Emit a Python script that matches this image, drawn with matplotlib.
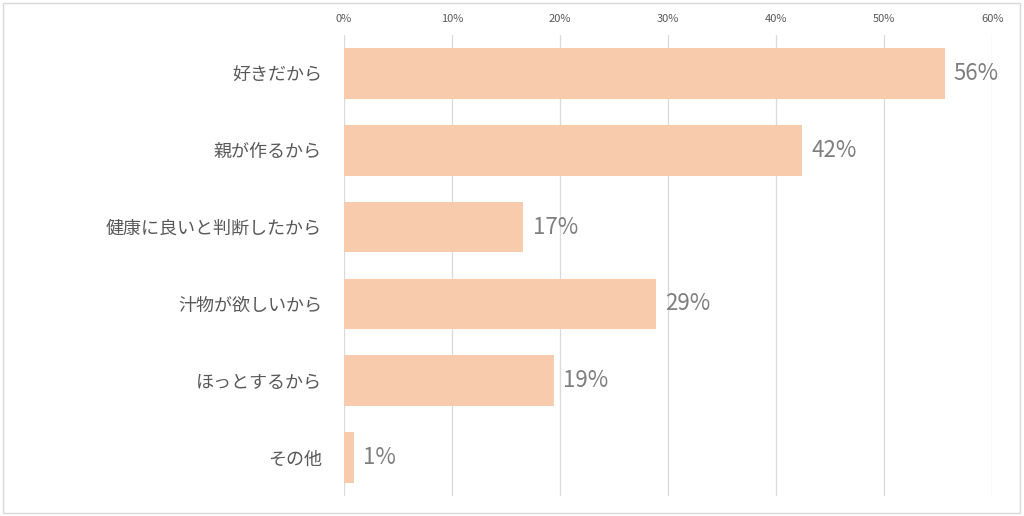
import matplotlib
matplotlib.use("Agg")
import matplotlib.pyplot as plt
from matplotlib.patches import Rectangle
from matplotlib.ticker import PercentFormatter

plt.rcParams["font.family"] = ["Noto Sans CJK JP", "DejaVu Sans"]

# reasons, top to bottom, share of respondents (%)
reasons = ["好きだから", "親が作るから", "健康に良いと判断したから",
           "汁物が欲しいから", "ほっとするから", "その他"]
shares = [55.6, 42.4, 16.6, 28.9, 19.4, 0.9]
xticks = [0, 10, 20, 30, 40, 50, 60]

BAR = "#F8CBAD"
GRID = "#D9D9D9"

fig = plt.figure(figsize=(10.24, 5.16), dpi=100)
ax = fig.add_axes([0.336, 0.039, 0.633, 0.893])

y = list(range(len(reasons)))
ax.barh(y, shares, height=0.66, color=BAR, zorder=2)
for yi, v in zip(y, shares):
    ax.text(v + 0.85, yi, f"{v:.0f}%", va="center", ha="left",
            fontsize=16, color="#7F7F7F")

ax.set_xlim(0, 60)
ax.set_ylim(len(reasons) - 0.5, -0.5)
ax.set_xticks(xticks)
ax.xaxis.set_major_formatter(PercentFormatter(decimals=0))
ax.xaxis.tick_top()
ax.tick_params(axis="x", length=0, labelsize=8, colors="#595959", pad=8)
ax.set_yticks(y)
ax.set_yticklabels(reasons)
ax.tick_params(axis="y", length=0, labelsize=13, colors="#595959", pad=16)
ax.grid(axis="x", color=GRID, linewidth=0.9, zorder=0)
for s in ax.spines.values():
    s.set_visible(False)

# light frame round the whole picture
fig.patches.append(Rectangle((0.003, 0.006), 0.993, 0.988, transform=fig.transFigure,
                             fill=False, edgecolor=GRID, linewidth=1))

fig.savefig("out.png", dpi=100)
